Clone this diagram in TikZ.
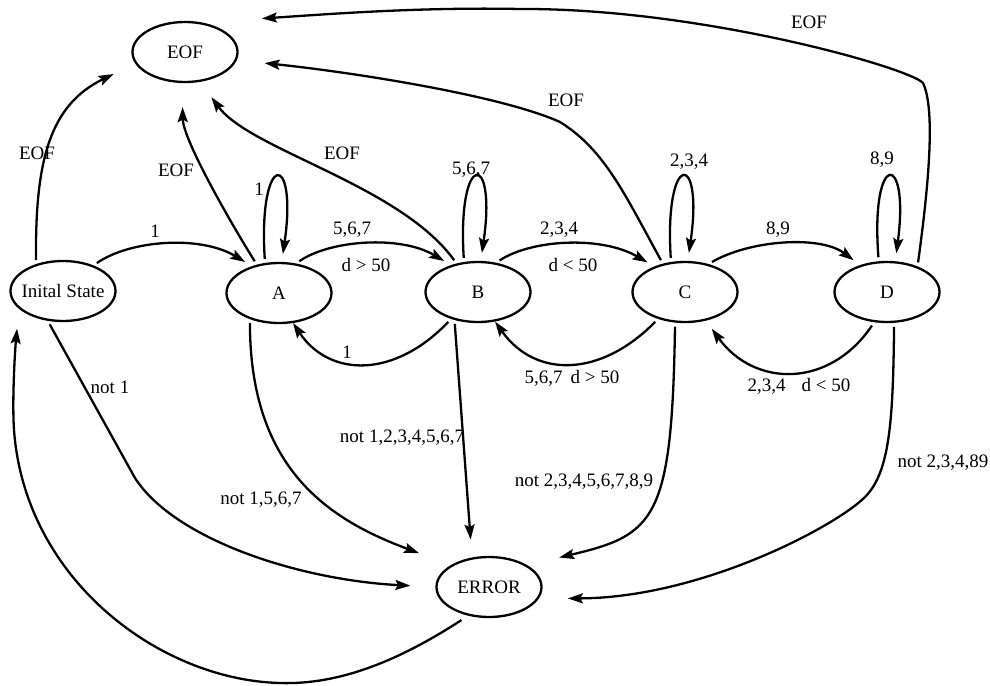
\documentclass[tikz,border=0pt]{standalone}
\usepackage{fontspec}
\setmainfont{Liberation Serif}
\usetikzlibrary{shapes.geometric,arrows.meta}
\begin{document}
\begin{tikzpicture}[x=0.5pt,y=-0.5pt,
  state/.style={ellipse,draw,line width=1.15pt,minimum width=52.5pt,minimum height=30pt,inner sep=0pt,font=\fontsize{9.5}{11}\selectfont},
  lbl/.style={inner sep=0pt,font=\fontsize{9.5}{11}\selectfont},
  arr/.style={line width=1.15pt,-{Stealth[length=7.5pt,width=5pt,inset=1.3pt]},shorten <=2pt,shorten >=4pt},
]
\useasboundingbox (0,0) rectangle (990,685);
% states
\node[state] (EOF) at (185,52) {\makebox[0pt]{EOF}};
\node[state] (I) at (63,291) {\makebox[0pt]{Inital State}};
\node[state] (A) at (279,293) {\makebox[0pt]{A}};
\node[state] (B) at (478,292) {\makebox[0pt]{B}};
\node[state] (C) at (685,292) {\makebox[0pt]{C}};
\node[state] (D) at (887,292) {\makebox[0pt]{D}};
\node[state] (ERROR) at (489,587) {\makebox[0pt]{ERROR}};
% EOF edges
\draw[arr,shorten >=12pt] (I.135) .. controls (35,160) and (50,105) .. (EOF.193);
\draw[arr,shorten >=12pt] (A.128) .. controls (232,225) and (183,140) .. (EOF.265);
\draw[arr,shorten >=9.5pt] (B.127) .. controls (400,185) and (250,150) .. (EOF.297);
\draw[arr,shorten >=14pt] (C.128) .. controls (625,195) and (605,150) .. (560,122) .. controls (500,95) and (350,72) .. (EOF.351);
\draw[arr,shorten >=30pt] (D.40) .. controls (928,190) and (936,110) .. (923,83) .. controls (910,68) and (700,8) .. (520,9) .. controls (420,7) and (330,14) .. (EOF.60);
% forward edges
\draw[arr] (I.40) .. controls (130,240) and (200,235) .. (A.135);
\draw[arr] (A.60) .. controls (330,240) and (400,235) .. (B.135);
\draw[arr] (B.58) .. controls (530,240) and (600,235) .. (C.140);
\draw[arr] (C.50) .. controls (750,240) and (820,235) .. (D.135);
% loops
\draw[arr] (A.115) .. controls (258,150) and (298,150) .. (A.85);
\draw[arr] (B.115) .. controls (457,150) and (497,150) .. (B.85);
\draw[arr] (C.115) .. controls (664,150) and (704,150) .. (C.85);
\draw[arr] (D.105) .. controls (870,150) and (910,150) .. (D.75);
% backward edges
\draw[arr,shorten >=0pt] (B.225) .. controls (395,378) and (330,378) .. (A.295);
\draw[arr,shorten >=0pt] (C.225) .. controls (600,378) and (535,378) .. (B.300);
\draw[arr,shorten >=5pt] (D.247) .. controls (830,388) and (755,388) .. (C.306);
% error edges
\draw[arr,shorten >=12.5pt] (I.243) -- (135,478) .. controls (175,540) and (300,580) .. (ERROR.180);
\draw[arr,shorten >=17pt] (A.222) .. controls (250,470) and (330,520) .. (ERROR.150);
\draw[arr,shorten >=9pt] (B.230) -- (ERROR.120);
\draw[arr,shorten >=16.5pt] (C.252) .. controls (672,520) and (655,535) .. (ERROR.30);
\draw[arr,shorten >=14.5pt] (D.283) .. controls (893,420) and (890,472) .. (865,497) .. controls (835,527) and (700,598) .. (ERROR.347);
\draw[arr,shorten <=4pt,shorten >=10pt] (ERROR.234) .. controls (400,660) and (340,685) .. (280,683) .. controls (160,680) and (25,580) .. (14,430) .. controls (12,400) and (15,350) .. (I.202);
% labels
\node[lbl] (l1) at (37,153) {EOF};
\node[lbl] (l2) at (176,170) {EOF};
\node[lbl] (l3) at (342,153) {EOF};
\node[lbl] (l4) at (566,100) {EOF};
\node[lbl] (l5) at (809,22) {EOF};
\node[lbl] (l6) at (155,231) {1};
\node[lbl] (l7) at (259,189) {1};
\node[lbl] (l8) at (352,230) {5,6,7};
\node[lbl] (l9) at (366,265) {d > 50};
\node[lbl] (l10) at (471,170) {5,6,7};
\node[lbl] (l11) at (559,230) {2,3,4};
\node[lbl] (l12) at (573,265) {d < 50};
\node[lbl] (l13) at (689,162) {2,3,4};
\node[lbl] (l14) at (778,230) {8,9};
\node[lbl] (l15) at (882,160) {8,9};
\node[lbl] (l16) at (347,352) {1};
\node[lbl] (l17) at (572,378) {5,6,7\hspace{4pt}d > 50};
\node[lbl] (l18) at (799,386) {2,3,4\hspace{8pt}d < 50};
\node[lbl] (l19) at (110,387) {not 1};
\node[lbl] (l20) at (261,500) {not 1,5,6,7};
\node[lbl] (l21) at (402,438) {not 1,2,3,4,5,6,7};
\node[lbl] (l22) at (584,482) {not 2,3,4,5,6,7,8,9};
\node[lbl] (l23) at (943,463) {not 2,3,4,89};
\end{tikzpicture}
\end{document}
